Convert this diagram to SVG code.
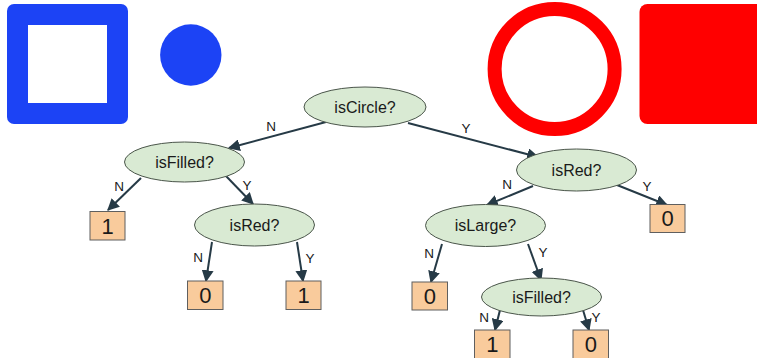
<svg xmlns="http://www.w3.org/2000/svg" width="757" height="358" viewBox="0 0 757 358">
  <style>
    .q { fill: #d9ead3; stroke: #4a554a; stroke-width: 1; }
    .leaf { fill: #f9cb9c; stroke: #5f5f5f; stroke-width: 1; }
    .qt { font-family: "Liberation Sans", Arial, sans-serif; font-size: 16px; fill: #1a1a1a; text-anchor: middle; dominant-baseline: central; }
    .lt { font-family: "Liberation Sans", Arial, sans-serif; font-size: 22px; fill: #1a1a1a; text-anchor: middle; dominant-baseline: central; }
    .el { font-family: "Liberation Sans", Arial, sans-serif; font-size: 13.5px; fill: #1a1a1a; text-anchor: middle; dominant-baseline: central; }
    .edge { stroke: #263a46; stroke-width: 2; fill: none; marker-end: url(#arrow); }
  </style>
  <defs>
    <marker id="arrow" viewBox="0 0 10 10" refX="9" refY="5" markerWidth="6" markerHeight="6" orient="auto" markerUnits="strokeWidth">
      <path d="M0,0 L10,5 L0,10 z" fill="#263a46"/>
    </marker>
  </defs>

  <!-- example shapes -->
  <g id="shapes">
    <rect x="7" y="4" width="121" height="120" rx="7" fill="#1c43f5"/>
    <rect x="28" y="25" width="79" height="78" fill="#ffffff"/>
    <circle cx="190.8" cy="55" r="30.7" fill="#1c43f5"/>
    <circle cx="554.6" cy="69" r="60" fill="none" stroke="#ff0000" stroke-width="14"/>
    <rect x="639.5" y="4" width="130" height="120" rx="8" fill="#ff0000"/>
  </g>

  <!-- connectors -->
  <g id="edges">
    <line class="edge" x1="326" y1="122" x2="229" y2="148"/>
    <text class="el" x="271" y="126">N</text>
    <line class="edge" x1="408" y1="123" x2="538" y2="157"/>
    <text class="el" x="466" y="128">Y</text>

    <line class="edge" x1="141" y1="178" x2="108" y2="210"/>
    <text class="el" x="119" y="186">N</text>
    <line class="edge" x1="226" y1="176" x2="253" y2="204"/>
    <text class="el" x="247" y="185">Y</text>

    <line class="edge" x1="212" y1="242" x2="206" y2="281"/>
    <text class="el" x="198" y="257">N</text>
    <line class="edge" x1="297" y1="242" x2="303" y2="281"/>
    <text class="el" x="310" y="258">Y</text>

    <line class="edge" x1="533" y1="186" x2="487" y2="205"/>
    <text class="el" x="507" y="184">N</text>
    <line class="edge" x1="617" y1="185" x2="667" y2="205"/>
    <text class="el" x="647" y="186">Y</text>

    <line class="edge" x1="442" y1="244" x2="431" y2="282"/>
    <text class="el" x="429" y="253">N</text>
    <line class="edge" x1="528" y1="244" x2="541" y2="280"/>
    <text class="el" x="543" y="252">Y</text>

    <line class="edge" x1="500" y1="310" x2="495" y2="330"/>
    <text class="el" x="484" y="317">N</text>
    <line class="edge" x1="583" y1="310" x2="589" y2="330"/>
    <text class="el" x="596" y="317">Y</text>
  </g>

  <!-- decision nodes -->
  <g id="isCircle">
    <ellipse class="q" cx="365" cy="107" rx="61" ry="20"/>
    <text class="qt" x="365" y="107">isCircle?</text>
  </g>
  <g id="isFilled-left">
    <ellipse class="q" cx="184.5" cy="162" rx="60" ry="20"/>
    <text class="qt" x="184.5" y="162">isFilled?</text>
  </g>
  <g id="isRed-left">
    <ellipse class="q" cx="254.5" cy="225" rx="60" ry="21"/>
    <text class="qt" x="254.5" y="225">isRed?</text>
  </g>
  <g id="isRed-right">
    <ellipse class="q" cx="576.5" cy="170" rx="60" ry="21"/>
    <text class="qt" x="576.5" y="170">isRed?</text>
  </g>
  <g id="isLarge">
    <ellipse class="q" cx="485.5" cy="225.5" rx="60" ry="21"/>
    <text class="qt" x="485.5" y="225.5">isLarge?</text>
  </g>
  <g id="isFilled-right">
    <ellipse class="q" cx="541.5" cy="297" rx="60" ry="19"/>
    <text class="qt" x="541.5" y="297">isFilled?</text>
  </g>

  <!-- leaves -->
  <g id="leaf-1a">
    <rect class="leaf" x="90" y="211.5" width="35" height="28.5"/>
    <text class="lt" x="107.5" y="226">1</text>
  </g>
  <g id="leaf-0a">
    <rect class="leaf" x="187.5" y="281" width="35.5" height="28.5"/>
    <text class="lt" x="205.3" y="295.5">0</text>
  </g>
  <g id="leaf-1b">
    <rect class="leaf" x="286" y="281" width="35" height="28.5"/>
    <text class="lt" x="303.5" y="295.5">1</text>
  </g>
  <g id="leaf-0b">
    <rect class="leaf" x="650" y="204.5" width="35" height="28"/>
    <text class="lt" x="667.5" y="218.5">0</text>
  </g>
  <g id="leaf-0c">
    <rect class="leaf" x="412" y="282" width="35.5" height="28"/>
    <text class="lt" x="429.8" y="296">0</text>
  </g>
  <g id="leaf-1c">
    <rect class="leaf" x="474.5" y="330" width="35.5" height="29"/>
    <text class="lt" x="492.3" y="344.5">1</text>
  </g>
  <g id="leaf-0d">
    <rect class="leaf" x="573" y="330" width="35.5" height="29"/>
    <text class="lt" x="590.8" y="344.5">0</text>
  </g>
</svg>
